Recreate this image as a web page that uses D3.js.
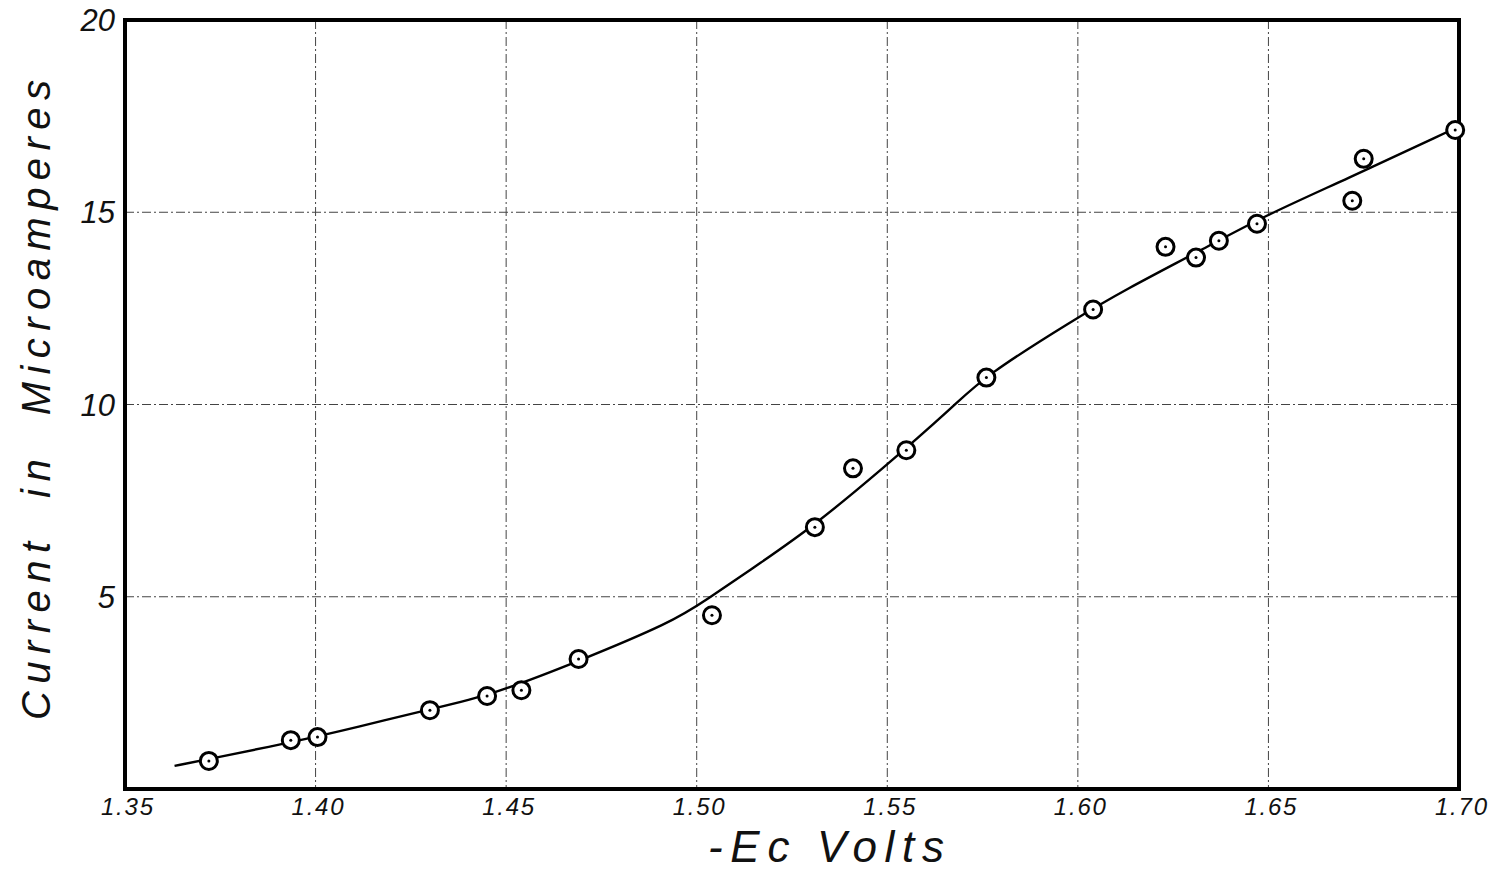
<!DOCTYPE html>
<head>
  <meta charset="utf-8">
  <script src="https://d3js.org/d3.v7.min.js"></script>
  <style>
    body { margin: 0; background: #fff; }
    svg { width: 1491px; height: 872px; }
    text { font-family: 'Liberation Sans', 'DejaVu Sans', sans-serif; font-style: italic; fill: #111; }
  </style>
</head>

<body>
  <svg></svg>

  <script>
    const width = 1491;
    const height = 872;

    // measured points: -Ec (volts) and current (microamperes)
    const pointVolts = [1.372, 1.3935, 1.4005, 1.430, 1.445, 1.454, 1.469, 1.504, 1.531, 1.541,
                        1.555, 1.576, 1.604, 1.623, 1.631, 1.637, 1.647, 1.672, 1.675, 1.699];
    const pointCurrent = [0.73, 1.27, 1.35, 2.05, 2.42, 2.57, 3.38, 4.52, 6.81, 8.34,
                          8.81, 10.70, 12.47, 14.10, 13.82, 14.26, 14.70, 15.30, 16.39, 17.14];

    // hand-drawn fitted curve
    const curveVolts = [1.363, 1.372, 1.394, 1.411, 1.430, 1.4455, 1.469, 1.4935, 1.502, 1.517,
                        1.5305, 1.548, 1.568, 1.575, 1.599, 1.6125, 1.6315, 1.649, 1.670, 1.698];
    const curveCurrent = [0.60, 0.78, 1.22, 1.61, 2.08, 2.42, 3.32, 4.34, 4.88, 5.90,
                          6.83, 8.26, 10.0, 10.70, 12.21, 12.99, 13.97, 14.91, 15.84, 17.14];

    const xTicks = [1.35, 1.40, 1.45, 1.50, 1.55, 1.60, 1.65, 1.70];
    const yTicks = [5, 10, 15, 20];

    const svg = d3.select('svg');

    const x = d3.scaleLinear().domain([1.35, 1.70]).range([125, 1459]);
    const y = d3.scaleLinear().domain([0, 20]).range([789, 20]);

    /*****************************************************
    ** grid (dash-dot, hand ruled)
    ******************************************************/
    const grid = svg.append('g')
      .attr('stroke', '#444')
      .attr('stroke-width', 1)
      .attr('stroke-dasharray', '9,3,2,3');

    grid.selectAll('.gx')
      .data(xTicks.slice(1, -1)).enter().append('line')
      .attr('x1', d => x(d)).attr('x2', d => x(d))
      .attr('y1', y(20)).attr('y2', y(0));

    grid.selectAll('.gy')
      .data(yTicks.slice(0, -1)).enter().append('line')
      .attr('x1', x(1.35)).attr('x2', x(1.70))
      .attr('y1', d => y(d)).attr('y2', d => y(d));

    // frame
    svg.append('rect')
      .attr('x', x(1.35)).attr('y', y(20))
      .attr('width', x(1.70) - x(1.35))
      .attr('height', y(0) - y(20))
      .attr('fill', 'none')
      .attr('stroke', '#000')
      .attr('stroke-width', 4);

    /*****************************************************
    ** tick labels
    ******************************************************/
    svg.selectAll('.xt')
      .data(xTicks).enter().append('text')
      .attr('x', d => x(d) + 2)
      .attr('y', 815)
      .attr('text-anchor', 'middle')
      .attr('font-size', 24)
      .attr('textLength', 52)
      .attr('lengthAdjust', 'spacing')
      .text(d => d.toFixed(2));

    svg.selectAll('.yt')
      .data(yTicks).enter().append('text')
      .attr('x', 115)
      .attr('y', d => y(d) + 11)
      .attr('text-anchor', 'end')
      .attr('font-size', 31)
      .text(d => d);

    // axis titles
    svg.append('text')
      .attr('x', 826)
      .attr('y', 862)
      .attr('text-anchor', 'middle')
      .attr('font-size', 44)
      .attr('textLength', 236)
      .attr('lengthAdjust', 'spacing')
      .text('-Ec Volts');

    svg.append('text')
      .attr('transform', 'translate(50, 400) rotate(-90)')
      .attr('text-anchor', 'middle')
      .attr('font-size', 40)
      .attr('word-spacing', 18)
      .attr('textLength', 640)
      .attr('lengthAdjust', 'spacing')
      .text('Current in Microamperes');

    /*****************************************************
    ** fitted curve
    ******************************************************/
    const curveData = curveVolts.map((v, i) => [v, curveCurrent[i]]);
    const line = d3.line()
      .x(d => x(d[0]))
      .y(d => y(d[1]))
      .curve(d3.curveBasis);

    svg.append('path')
      .datum(curveData)
      .attr('d', line)
      .attr('fill', 'none')
      .attr('stroke', '#000')
      .attr('stroke-width', 2.4);

    /*****************************************************
    ** data points: circle with centre dot
    ******************************************************/
    const points = pointVolts.map((v, i) => ({ v: v, c: pointCurrent[i] }));

    const marks = svg.selectAll('.pt')
      .data(points).enter().append('g')
      .attr('transform', d => `translate(${x(d.v)}, ${y(d.c)})`);

    marks.append('circle')
      .attr('r', 8.5)
      .attr('fill', '#fff')
      .attr('stroke', '#000')
      .attr('stroke-width', 3);

    marks.append('circle')
      .attr('r', 1.5)
      .attr('fill', '#000');
  </script>
</body>
